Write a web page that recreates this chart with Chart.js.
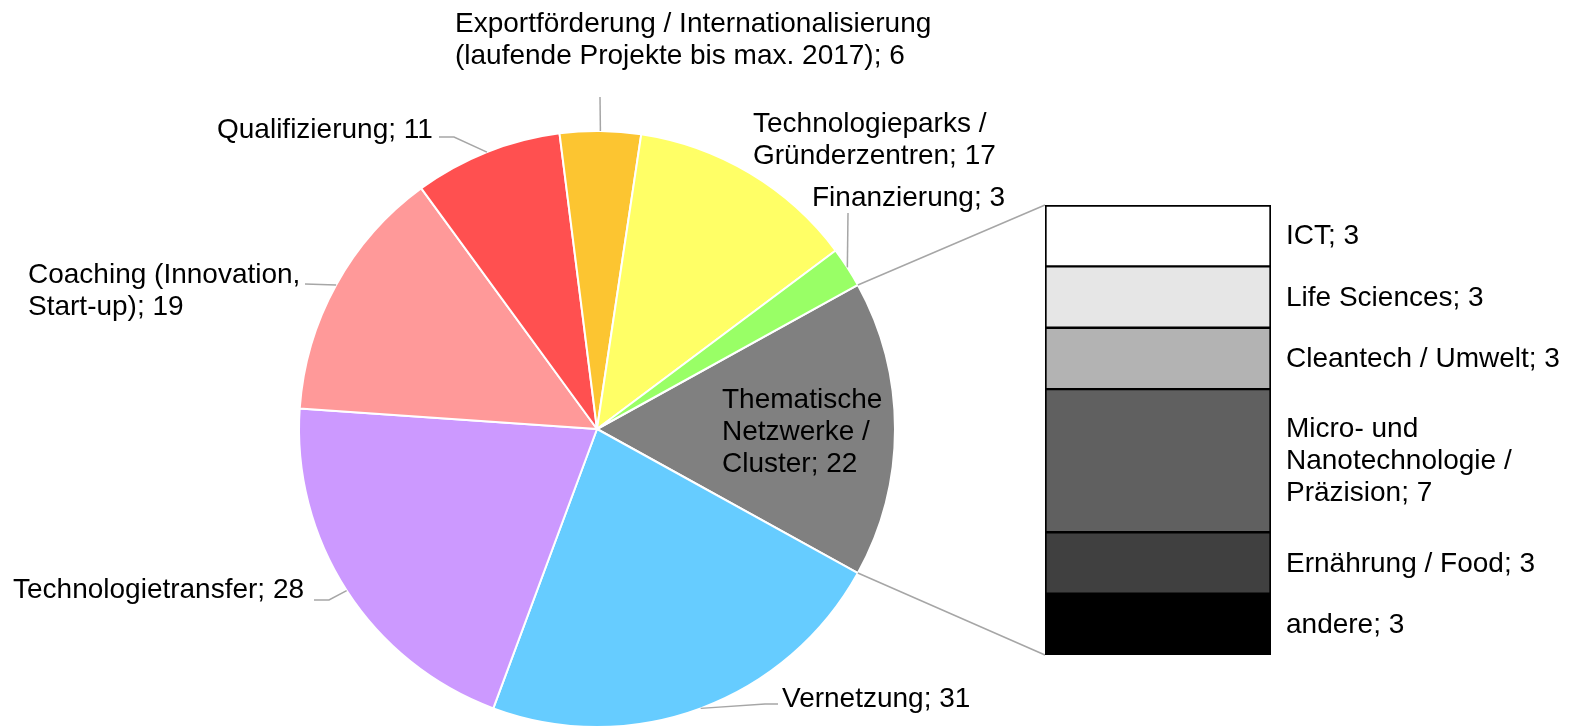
<!DOCTYPE html>
<html>
<head>
<meta charset="utf-8">
<script src="https://cdn.jsdelivr.net/npm/chart.js@4"></script>
<style>
  body { margin: 0; background: #fff; }
  #wrap { position: relative; width: 1571px; height: 726px; }
  canvas { position: absolute; top: 0; }
</style>
</head>
<body>
<div id="wrap">
  <canvas id="pie-graph" width="1571" height="726" style="left:0"></canvas>
  <canvas id="bar-graph" width="571" height="726" style="left:1000px"></canvas>
</div>
<script>
// pie (main categories)
const pieLabels = [
  'Thematische\nNetzwerke /\nCluster',
  'Vernetzung',
  'Technologietransfer',
  'Coaching (Innovation,\nStart-up)',
  'Qualifizierung',
  'Exportförderung / Internationalisierung\n(laufende Projekte bis max. 2017)',
  'Technologieparks /\nGründerzentren',
  'Finanzierung'
];
const pieValues = [22, 31, 28, 19, 11, 6, 17, 3];
const pieColors = ['#808080', '#66CCFF', '#CC99FF', '#FF9999', '#FF5050', '#FCC531', '#FFFF66', '#99FF66'];

// bar (breakdown of the first slice)
const barLabels = [
  'ICT',
  'Life Sciences',
  'Cleantech / Umwelt',
  'Micro- und\nNanotechnologie /\nPräzision',
  'Ernährung / Food',
  'andere'
];
const barValues = [3, 3, 3, 7, 3, 3];
const barColors = ['#FFFFFF', '#E6E6E6', '#B3B3B3', '#606060', '#404040', '#000000'];

const FONT = '28px "Liberation Sans", Arial, sans-serif';
const LINE = 32;

// where the pie labels go: x, first baseline, leader points (label side first)
const pieLabelPos = [
  { x: 722, y: 408 },
  { x: 782, y: 707, leader: [[778, 704], [765, 704]] },
  { x: 13, y: 598, leader: [[314, 600], [329, 600]] },
  { x: 28, y: 283, leader: [[305, 284]] },
  { x: 217, y: 138, leader: [[439, 137], [454, 137]] },
  { x: 455, y: 32, leader: [[600, 97]] },
  { x: 753, y: 132 },
  { x: 812, y: 206, leader: [[848, 213]] }
];

const pieTotal = pieValues.reduce((a, b) => a + b, 0);
const barTotal = barValues.reduce((a, b) => a + b, 0);

const barLabelPlugin = {
  id: 'barLabels',
  afterDraw(chart) {
    const ctx = chart.ctx;
    ctx.save();
    ctx.font = FONT;
    ctx.fillStyle = '#000';
    ctx.textBaseline = 'middle';
    chart.data.datasets.forEach((ds, i) => {
      const el = chart.getDatasetMeta(i).data[0];
      const cy = (el.y + el.base) / 2 + 1;
      const lines = (barLabels[i] + '; ' + barValues[i]).split('\n');
      lines.forEach((t, k) => {
        ctx.fillText(t, chart.chartArea.right + 15, cy + (k - (lines.length - 1) / 2) * LINE);
      });
    });
    ctx.restore();
  }
};

const last = barValues.length - 1;
const barChart = new Chart(document.getElementById('bar-graph'), {
  type: 'bar',
  data: {
    labels: [''],
    datasets: barLabels.map((l, i) => ({
      label: l,
      data: [barValues[i]],
      backgroundColor: barColors[i],
      borderColor: '#000',
      borderWidth: { left: 2, right: 2, top: i === 0 ? 2 : 1.5, bottom: i === last ? 2 : 1.5 },
      borderSkipped: false,
      barPercentage: 1,
      categoryPercentage: 1
    }))
  },
  options: {
    responsive: false,
    animation: false,
    layout: { padding: { left: 45, right: 300, top: 205, bottom: 71 } },
    scales: {
      x: { display: false, stacked: true },
      y: { display: false, stacked: true, reverse: true, min: 0, max: barTotal }
    },
    plugins: { legend: { display: false }, tooltip: { enabled: false } }
  },
  plugins: [barLabelPlugin]
});

const pieLabelPlugin = {
  id: 'pieLabels',
  afterDraw(chart) {
    const ctx = chart.ctx;
    const arcs = chart.getDatasetMeta(0).data;
    ctx.save();
    ctx.strokeStyle = '#A6A6A6';
    ctx.lineWidth = 1.5;
    arcs.forEach((arc, i) => {
      const pos = pieLabelPos[i];
      if (!pos.leader) return;
      const mid = (arc.startAngle + arc.endAngle) / 2;
      const ex = arc.x + Math.cos(mid) * arc.outerRadius;
      const ey = arc.y + Math.sin(mid) * arc.outerRadius;
      ctx.beginPath();
      pos.leader.forEach((p, k) => k ? ctx.lineTo(p[0], p[1]) : ctx.moveTo(p[0], p[1]));
      ctx.lineTo(ex, ey);
      ctx.stroke();
    });

    // lines from the first slice to the bar
    const g = arcs[0];
    const offX = document.getElementById('bar-graph').offsetLeft;
    const topEl = barChart.getDatasetMeta(0).data[0];
    const botEl = barChart.getDatasetMeta(last).data[0];
    const bx = offX + topEl.x - topEl.width / 2;
    const by1 = Math.min(topEl.y, topEl.base);
    const by2 = Math.max(botEl.y, botEl.base);
    ctx.beginPath();
    ctx.moveTo(g.x + Math.cos(g.startAngle) * g.outerRadius, g.y + Math.sin(g.startAngle) * g.outerRadius);
    ctx.lineTo(bx, by1);
    ctx.moveTo(g.x + Math.cos(g.endAngle) * g.outerRadius, g.y + Math.sin(g.endAngle) * g.outerRadius);
    ctx.lineTo(bx, by2);
    ctx.stroke();

    ctx.font = FONT;
    ctx.fillStyle = '#000';
    ctx.textBaseline = 'alphabetic';
    arcs.forEach((arc, i) => {
      const pos = pieLabelPos[i];
      const lines = (pieLabels[i] + '; ' + pieValues[i]).split('\n');
      lines.forEach((t, k) => ctx.fillText(t, pos.x, pos.y + k * LINE));
    });
    ctx.restore();
  }
};

new Chart(document.getElementById('pie-graph'), {
  type: 'pie',
  data: {
    labels: pieLabels,
    datasets: [{
      data: pieValues,
      backgroundColor: pieColors,
      borderColor: '#fff',
      borderWidth: 2
    }]
  },
  options: {
    responsive: false,
    animation: false,
    rotation: 90 - (pieValues[0] / pieTotal * 360) / 2,
    radius: 298,
    layout: { padding: { left: 0, right: 377, top: 132, bottom: 0 } },
    plugins: { legend: { display: false }, tooltip: { enabled: false } }
  },
  plugins: [pieLabelPlugin]
});
</script>
</body>
</html>
